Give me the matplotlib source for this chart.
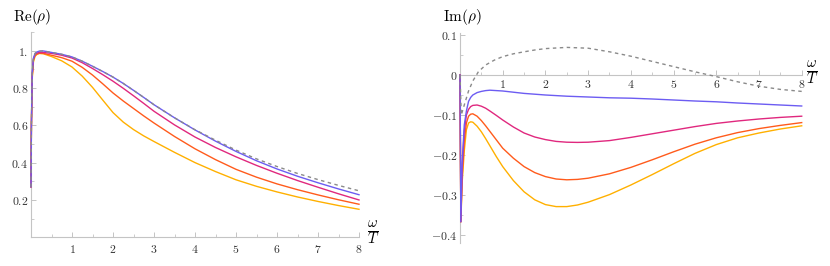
import matplotlib

matplotlib.use("Agg")
import matplotlib.pyplot as plt
from matplotlib.ticker import FixedLocator, FixedFormatter, MultipleLocator

plt.rcParams["mathtext.fontset"] = "cm"
plt.rcParams["font.family"] = "DejaVu Serif"

# ---- Re(rho) panel ----
x_re = [0, 0.01, 0.03, 0.06, 0.1, 0.15, 0.2, 0.3, 0.5, 0.75, 1, 1.25, 1.5, 1.75,
        2, 2.25, 2.5, 2.75, 3, 3.5, 4, 4.5, 5, 5.5, 6, 6.5, 7, 7.5, 8]
re_blue = [0.27, 0.6, 0.88, 0.96, 0.985, 0.993, 0.997, 0.998, 0.99, 0.98, 0.966,
           0.943, 0.916, 0.888, 0.858, 0.824, 0.787, 0.749, 0.71, 0.64, 0.575,
           0.515, 0.46, 0.41, 0.366, 0.327, 0.292, 0.259, 0.228]
re_dashed = [0.27, 0.6, 0.88, 0.96, 0.985, 0.993, 0.997, 0.998, 0.99, 0.98, 0.966,
             0.943, 0.916, 0.888, 0.858, 0.824, 0.787, 0.749, 0.71, 0.64, 0.576,
             0.52, 0.467, 0.42, 0.379, 0.342, 0.309, 0.278, 0.249]
re_magenta = [0.27, 0.6, 0.87, 0.955, 0.98, 0.987, 0.99, 0.99, 0.985, 0.975, 0.96,
              0.935, 0.904, 0.871, 0.836, 0.798, 0.758, 0.717, 0.675, 0.602,
              0.537, 0.481, 0.431, 0.385, 0.343, 0.304, 0.268, 0.233, 0.2]
re_orange = [0.27, 0.6, 0.86, 0.95, 0.975, 0.982, 0.985, 0.985, 0.975, 0.962,
             0.943, 0.91, 0.869, 0.822, 0.773, 0.73, 0.69, 0.65, 0.612, 0.54,
             0.474, 0.416, 0.364, 0.322, 0.286, 0.255, 0.227, 0.201, 0.177]
re_yellow = [0.27, 0.6, 0.85, 0.94, 0.97, 0.98, 0.985, 0.983, 0.968, 0.945, 0.912,
             0.863, 0.803, 0.735, 0.668, 0.617, 0.577, 0.543, 0.513, 0.455, 0.4,
             0.352, 0.308, 0.273, 0.243, 0.216, 0.192, 0.17, 0.15]

# ---- Im(rho) panel ----
x_im = [0, 0.02, 0.05, 0.1, 0.15, 0.2, 0.25, 0.3, 0.4, 0.5, 0.6, 0.7, 0.85, 1,
        1.25, 1.5, 1.75, 2, 2.25, 2.5, 2.75, 3, 3.5, 4, 4.5, 5, 5.5, 6, 6.5, 7,
        7.5, 8]
im_blue = [0, -0.367, -0.22, -0.125, -0.09, -0.066, -0.056, -0.05, -0.044, -0.041,
           -0.039, -0.038, -0.039, -0.04, -0.043, -0.046, -0.048, -0.05, -0.0515,
           -0.053, -0.054, -0.055, -0.057, -0.058, -0.06, -0.0625, -0.065,
           -0.067, -0.07, -0.0725, -0.075, -0.0775]
im_magenta = [0, -0.367, -0.235, -0.14, -0.1, -0.086, -0.079, -0.076, -0.075,
              -0.078, -0.083, -0.09, -0.101, -0.1125, -0.13, -0.145, -0.155,
              -0.1615, -0.166, -0.168, -0.1685, -0.168, -0.164, -0.156, -0.147,
              -0.138, -0.129, -0.121, -0.115, -0.11, -0.106, -0.103]
im_orange = [0, -0.367, -0.255, -0.165, -0.12, -0.103, -0.098, -0.097, -0.103,
             -0.114, -0.127, -0.141, -0.162, -0.183, -0.208, -0.229, -0.244,
             -0.254, -0.26, -0.262, -0.261, -0.258, -0.247, -0.231, -0.212,
             -0.192, -0.173, -0.157, -0.144, -0.134, -0.126, -0.119]
im_yellow = [0, -0.367, -0.27, -0.19, -0.137, -0.12, -0.117, -0.118, -0.128,
             -0.142, -0.159, -0.177, -0.204, -0.229, -0.264, -0.292, -0.312,
             -0.324, -0.329, -0.329, -0.325, -0.318, -0.299, -0.275, -0.249,
             -0.222, -0.196, -0.174, -0.157, -0.145, -0.135, -0.127]
x_im_dashed = [0, 0.03, 0.1, 0.2, 0.3, 0.43, 0.6, 0.8, 1, 1.25, 1.5, 1.75, 2, 2.5,
               3, 3.5, 4, 4.5, 5, 5.5, 6, 6.5, 7, 7.5, 8]
im_dashed = [0, -0.1, -0.075, -0.04, -0.015, 0.008, 0.025, 0.037, 0.046, 0.053,
             0.058, 0.0625, 0.066, 0.069, 0.067, 0.058, 0.047, 0.034, 0.021,
             0.008, -0.004, -0.017, -0.028, -0.036, -0.041]

x_ticks = [1, 2, 3, 4, 5, 6, 7, 8]
re_ticks = [0.2, 0.4, 0.6, 0.8, 1.0]
re_tick_labels = ["0.2", "0.4", "0.6", "0.8", "1."]
im_ticks = [0.1, 0, -0.1, -0.2, -0.3, -0.4]
im_tick_labels = ["0.1", "0", "-0.1", "-0.2", "-0.3", "-0.4"]

C_BLUE = "#6c5cf2"
C_MAGENTA = "#e0287e"
C_ORANGE = "#ff5b1c"
C_YELLOW = "#ffb000"
C_DASH = "#8a8a8a"
AXIS_GRAY = "#c4c4c4"


def style_axes(ax):
    for side in ["top", "right"]:
        ax.spines[side].set_visible(False)
    for side in ["left", "bottom"]:
        ax.spines[side].set_color(AXIS_GRAY)
        ax.spines[side].set_linewidth(0.8)
    ax.tick_params(which="both", direction="in", color=AXIS_GRAY, labelsize=8.5,
                   labelcolor="#333333", pad=2)
    ax.tick_params(which="major", length=3.5, width=0.7)
    ax.tick_params(which="minor", length=2, width=0.6)
    ax.patch.set_alpha(0)


def mt(s):
    return "$" + s + "$"


def draw(ax, x, curves, xd, yd):
    # lines above the spines so the near-vertical start at x=0 stays visible
    for y, c in curves:
        ax.plot(x, y, color=c, lw=1.0, solid_joinstyle="round", zorder=3,
                clip_on=False)
    ax.plot(xd, yd, color=C_DASH, lw=1.0, ls=(0, (2.5, 2.5)), zorder=3,
            clip_on=False)


fig = plt.figure(figsize=(8.3, 2.66), dpi=100)

# left panel
ax1 = fig.add_axes([31 / 830, 1 - 237.3 / 266, 328 / 830, 205.4 / 266])
draw(ax1, x_re, [(re_yellow, C_YELLOW), (re_orange, C_ORANGE),
                 (re_magenta, C_MAGENTA), (re_blue, C_BLUE)], x_re, re_dashed)
ax1.set_xlim(0, 8)
ax1.set_ylim(0, 1.1)
style_axes(ax1)
ax1.xaxis.set_major_locator(FixedLocator(x_ticks))
ax1.xaxis.set_major_formatter(FixedFormatter([mt(str(v)) for v in x_ticks]))
ax1.xaxis.set_minor_locator(MultipleLocator(0.5))
ax1.yaxis.set_major_locator(FixedLocator(re_ticks))
ax1.yaxis.set_major_formatter(FixedFormatter([mt(s) for s in re_tick_labels]))
ax1.yaxis.set_minor_locator(MultipleLocator(0.1))
ax1.tick_params(axis="x", pad=4)
fig.text(13 / 830, 1 - 17 / 266, r"$\mathrm{Re}(\rho)$", fontsize=11,
         ha="left", va="center")
fig.text(373 / 830, 1 - 233 / 266, r"$\frac{\omega}{T}$", fontsize=15,
         ha="center", va="center")

# right panel
ax2 = fig.add_axes([460 / 830, 1 - 243 / 266, 341.7 / 830, 210 / 266])
draw(ax2, x_im, [(im_yellow, C_YELLOW), (im_orange, C_ORANGE),
                 (im_magenta, C_MAGENTA), (im_blue, C_BLUE)], x_im_dashed, im_dashed)
ax2.set_xlim(0, 8)
ax2.set_ylim(-0.42, 0.105)
style_axes(ax2)
ax2.spines["bottom"].set_position(("data", 0))
ax2.xaxis.set_major_locator(FixedLocator(x_ticks))
ax2.xaxis.set_major_formatter(FixedFormatter([mt(str(v)) for v in x_ticks]))
ax2.xaxis.set_minor_locator(MultipleLocator(0.5))
ax2.yaxis.set_major_locator(FixedLocator(im_ticks))
ax2.yaxis.set_major_formatter(FixedFormatter([mt(s) for s in im_tick_labels]))
ax2.yaxis.set_minor_locator(MultipleLocator(0.05))
ax2.tick_params(axis="x", pad=2)
fig.text(443 / 830, 1 - 17 / 266, r"$\mathrm{Im}(\rho)$", fontsize=11,
         ha="left", va="center")
fig.text(812 / 830, 1 - 73 / 266, r"$\frac{\omega}{T}$", fontsize=15,
         ha="center", va="center")

fig.savefig("out.png", dpi=100)
